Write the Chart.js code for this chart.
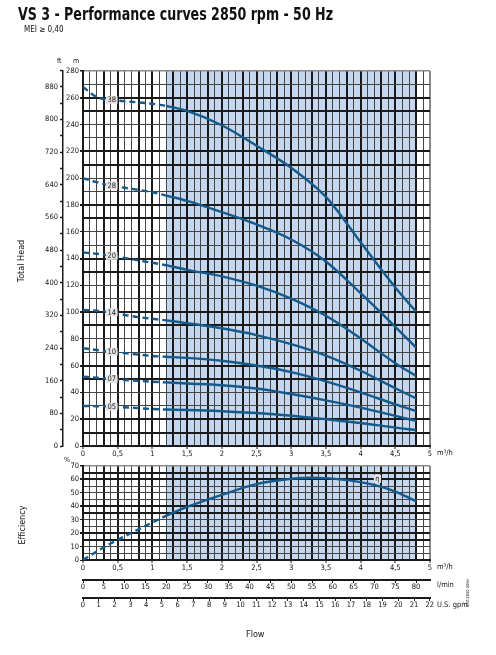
<!DOCTYPE html>
<html><head><meta charset="utf-8">
<script src="https://cdn.jsdelivr.net/npm/chart.js@4"></script>
<style>
html,body{margin:0;padding:0;background:#fff;}
#wrap{position:relative;width:496px;height:655px;overflow:hidden;background:#fff;}
canvas{position:absolute;left:0;top:0;}
.t{position:absolute;white-space:nowrap;font-family:"Liberation Sans Narrow","Arial Narrow","DejaVu Sans Condensed",Roboto,sans-serif;color:#111;}
.rot{text-align:center;transform:rotate(-90deg);transform-origin:50% 50%;}
</style></head>
<body><div id="wrap">
<canvas id="head" width="496" height="655"></canvas>
<canvas id="eff" width="496" height="655"></canvas>
<div class="t" id="title" style="left:18px;top:5px;font-size:18px;line-height:18px;font-weight:bold;">VS 3 - Performance curves 2850 rpm - 50 Hz</div>
<div class="t" style="left:24px;top:26px;font-size:8px;line-height:8px;">MEI ≥ 0,40</div>
<div class="t" style="left:57px;top:58px;font-size:7px;line-height:7px;">ft</div>
<div class="t" style="left:73px;top:58px;font-size:7px;line-height:7px;">m</div>
<div class="t" style="left:64px;top:457px;font-size:7px;line-height:7px;">%</div>
<div class="t rot" style="left:-19px;top:256px;width:80px;font-size:9px;line-height:10px;">Total Head</div>
<div class="t rot" style="left:-18px;top:520px;width:80px;font-size:9px;line-height:10px;">Efficiency</div>
<div class="t" style="left:437px;top:449px;font-size:7.5px;line-height:7.5px;">m³/h</div>
<div class="t" style="left:437px;top:563px;font-size:7.5px;line-height:7.5px;">m³/h</div>
<div class="t" style="left:437px;top:581px;font-size:7.5px;line-height:7.5px;">l/min</div>
<div class="t" style="left:437px;top:601px;font-size:7.5px;line-height:7.5px;">U.S. gpm</div>
<div class="t" style="left:246px;top:630px;font-size:9px;line-height:9px;">Flow</div>
<div class="t rot" style="left:448px;top:591px;width:40px;font-size:4px;line-height:4px;">VS3-2850-50Hz</div>
</div>
<script>
// ---------- data ----------
const flowDashed = [0, 0.2, 0.4, 0.7, 1.0, 1.2];
const flowSolid  = [1.2, 1.5, 2.0, 2.5, 3.0, 3.5, 4.0, 4.5, 4.8];
const stageLabels = ['38', '28', '20', '14', '10', '07', '05'];

const head38Dashed = [268, 260.5, 258.5, 257, 255.5, 254];
const head38Solid  = [254, 250.2, 239.5, 224.2, 207.7, 186, 152.2, 118.4, 100.3];
const head28Dashed = [200, 197, 194.5, 192, 189.5, 187];
const head28Solid  = [187, 183, 174.6, 165.4, 154.2, 137.8, 114.1, 89, 73.4];
const head20Dashed = [144.5, 143.5, 142, 139.5, 136.8, 135];
const head20Solid  = [135, 131.5, 126.7, 119.7, 110, 97.2, 80.3, 61.8, 52.3];
const head14Dashed = [101.5, 101, 99.8, 97, 95, 93.8];
const head14Solid  = [93.8, 91.7, 87.9, 82.8, 76, 67.5, 56.2, 43.1, 35.6];
const head10Dashed = [73, 71.7, 70.4, 68.8, 67.2, 66.6];
const head10Solid  = [66.6, 65.8, 63.7, 60.1, 55.2, 48.3, 40.1, 31.1, 26.1];
const head07Dashed = [51.8, 51, 50, 49, 48, 47.5];
const head07Solid  = [47.5, 46.7, 45.4, 42.9, 38.8, 34.1, 28.7, 22.5, 18.7];
const head05Dashed = [29.9, 29.7, 29.4, 28.6, 27.6, 27.2];
const head05Solid  = [27.2, 26.9, 26.0, 24.6, 22.6, 20.0, 17.2, 13.7, 11.9];

const effFlowDashed = [0, 0.25, 0.5, 0.75, 1.0, 1.2];
const effDashed     = [0, 8, 15, 21.5, 28, 33];
const effFlowSolid  = [1.2, 1.5, 2.0, 2.5, 3.0, 3.3, 3.5, 4.0, 4.3, 4.5, 4.8];
const effSolid      = [33, 39.5, 48.5, 56.5, 60.5, 61.3, 61, 58, 54.5, 51, 43.7];
const effLabel = 'η';

const flowTickLabels = ['0','0,5','1','1,5','2','2,5','3','3,5','4','4,5','5'];
const headTicksM  = [0,20,40,60,80,100,120,140,160,180,200,220,240,260,280];
const headTicksFt = [0,80,160,240,320,400,480,560,640,720,800,880];
const effTicks    = [0,10,20,30,40,50,60,70];
const lminTicks   = [0,5,10,15,20,25,30,35,40,45,50,55,60,65,70,75,80];
const gpmTicks    = [0,1,2,3,4,5,6,7,8,9,10,11,12,13,14,15,16,17,18,19,20,21,22];
const shadeFrom = 1.2, shadeTo = 4.8;

const headDashed = [head38Dashed, head28Dashed, head20Dashed, head14Dashed, head10Dashed, head07Dashed, head05Dashed];
const headSolid  = [head38Solid, head28Solid, head20Solid, head14Solid, head10Solid, head07Solid, head05Solid];

// ---------- styling helpers ----------
const FONT = '"Liberation Sans Narrow","Arial Narrow","DejaVu Sans Condensed",Roboto,sans-serif';
const LINE = '#145a8c';
const SHADE = '#c4d7ee';
const DARK = '#1a1a1a', FINE = '#444444', EDGE = '#8a8a8a';
const near = (a, b) => Math.abs(a - b) < 1e-6;
const pts = (xs, ys) => xs.map((x, i) => ({x, y: ys[i]}));

function flowLabel(v){ const k = v * 2; return near(k, Math.round(k)) ? (flowTickLabels[Math.round(k)] ?? '') : ''; }
function inList(list, v){ return list.some(t => near(t, v)); }
function xThick(v){ const k = Math.round(v * 10); return near(v * 10, k) && (k % 5 === 0 || k % 5 === 3); }
function xColor(v){ return near(v, 5) ? EDGE : (xThick(v) ? DARK : FINE); }
function xWidth(v){ return near(v, 5) ? 2 : (xThick(v) ? 2 : 1); }

const shadePlugin = {
  id: 'shade',
  beforeDraw(chart){
    const {ctx, chartArea: a, scales: {x}} = chart;
    const x0 = x.getPixelForValue(shadeFrom), x1 = x.getPixelForValue(shadeTo);
    ctx.save(); ctx.fillStyle = SHADE; ctx.fillRect(x0, a.top, x1 - x0, a.bottom - a.top); ctx.restore();
  }
};
function drawTag(ctx, text, cx, cy){
  ctx.save();
  ctx.font = '7.5px ' + FONT;
  const w = ctx.measureText(text).width + 3, h = 8;
  ctx.fillStyle = '#e4e4e4';
  ctx.fillRect(cx - w / 2, cy - h / 2, w, h);
  ctx.fillStyle = '#222'; ctx.textAlign = 'center'; ctx.textBaseline = 'middle';
  ctx.fillText(text, cx, cy + 0.5);
  ctx.restore();
}
const headLabelPlugin = {
  id: 'headLabels',
  afterDatasetsDraw(chart){
    stageLabels.forEach((lab, i) => {
      const el = chart.getDatasetMeta(2 * i).data[2];
      drawTag(chart.ctx, lab, el.x + 1, el.y);
    });
  }
};
const effLabelPlugin = {
  id: 'effLabels',
  afterDatasetsDraw(chart){
    const el = chart.getDatasetMeta(1).data[8];
    drawTag(chart.ctx, effLabel, el.x - 4, el.y - 8);
  }
};

function lineDs(data, dashed){
  return {data, borderColor: LINE, borderWidth: 2.4, borderDash: dashed ? [6, 4] : [],
          pointRadius: 0, fill: false, cubicInterpolationMode: 'monotone', borderCapStyle: 'butt'};
}
const tickFont = {family: FONT, size: 7.5};
function flowAxis(h){
  return {
    type: 'linear', min: 0, max: 5, position: 'bottom', weight: 0,
    afterFit: s => { s.height = h; },
    ticks: {stepSize: 0.1, autoSkip: false, maxRotation: 0, padding: 1, color: '#111', font: tickFont,
            callback: v => flowLabel(v)},
    grid: {color: c => xColor(c.tick.value), lineWidth: c => xWidth(c.tick.value), tickLength: 3,
           tickColor: c => flowLabel(c.tick.value) !== '' ? DARK : 'rgba(0,0,0,0)', tickWidth: 1},
    border: {color: DARK, width: 2}
  };
}
const common = {
  responsive: false, animation: false, events: [],
  plugins: {legend: {display: false}, tooltip: {enabled: false}}
};

// ---------- head chart ----------
const headSets = [];
stageLabels.forEach((lab, i) => {
  headSets.push(lineDs(pts(flowDashed, headDashed[i]), true));
  headSets.push(lineDs(pts(flowSolid, headSolid[i]), false));
});
const M2FT = 3.28084;
// ft ticks: labelled every 80 ft, minor marks halfway between
const ftTickValues = [];
headTicksFt.forEach(v => { ftTickValues.push(v); ftTickValues.push(v + 40); });

new Chart(document.getElementById('head'), {
  type: 'line',
  data: {datasets: headSets},
  plugins: [shadePlugin, headLabelPlugin],
  options: Object.assign({}, common, {
    layout: {padding: {left: 25, right: 66, top: 71, bottom: 193}},
    scales: {
      x: flowAxis(16),
      y: {
        type: 'linear', min: 0, max: 280, position: 'left', weight: 0,
        afterFit: s => { s.width = 20; },
        ticks: {stepSize: 10, autoSkip: false, padding: 1, color: '#111', font: tickFont,
                callback: v => inList(headTicksM, v) ? String(v) : ''},
        grid: {color: c => { const v = c.tick.value; if (near(v, 280)) return EDGE; const r = Math.round(v) % 40; return (r === 10 || r === 20) ? DARK : FINE; },
               lineWidth: c => { const v = c.tick.value; if (near(v, 280)) return 1.5; const r = Math.round(v) % 40; return (r === 10 || r === 20) ? 2 : 1; },
               tickLength: 3, tickColor: c => inList(headTicksM, c.tick.value) ? DARK : 'rgba(0,0,0,0)'},
        border: {color: DARK, width: 2}
      },
      ft: {
        type: 'linear', min: 0, max: 280 * M2FT, position: 'left', weight: 1,
        afterFit: s => { s.width = 38; },
        afterBuildTicks: s => { s.ticks = ftTickValues.map(v => ({value: v})); },
        ticks: {autoSkip: false, padding: 2, color: '#111', font: tickFont,
                callback: v => inList(headTicksFt, v) ? String(v) : ''},
        grid: {drawOnChartArea: false, tickLength: 3, tickWidth: 1.5, tickColor: DARK},
        border: {color: DARK, width: 1.5}
      }
    }
  })
});

// ---------- efficiency chart ----------
const effThick = [15, 20, 35, 40, 60, 65];
new Chart(document.getElementById('eff'), {
  type: 'line',
  data: {datasets: [lineDs(pts(effFlowDashed, effDashed), true), lineDs(pts(effFlowSolid, effSolid), false)]},
  plugins: [shadePlugin, effLabelPlugin],
  options: Object.assign({}, common, {
    layout: {padding: {left: 63, right: 66, top: 466, bottom: 41}},
    scales: {
      x: flowAxis(20),
      y: {
        type: 'linear', min: 0, max: 70, position: 'left',
        afterFit: s => { s.width = 20; },
        ticks: {stepSize: 5, autoSkip: false, padding: 1, color: '#111', font: tickFont,
                callback: v => inList(effTicks, v) ? String(v) : ''},
        grid: {color: c => { const v = c.tick.value; if (near(v, 70)) return EDGE; return inList(effThick, v) ? DARK : FINE; },
               lineWidth: c => { const v = c.tick.value; if (near(v, 70)) return 1.5; return inList(effThick, v) ? 2 : 1; },
               tickLength: 3, tickColor: c => inList(effTicks, c.tick.value) ? DARK : 'rgba(0,0,0,0)'},
        border: {color: DARK, width: 2}
      },
      lmin: {
        type: 'linear', min: 0, max: 5 * 1000 / 60, position: 'bottom', weight: 1,
        afterFit: s => { s.height = 18; },
        afterBuildTicks: s => { s.ticks = lminTicks.map(v => ({value: v})); },
        ticks: {autoSkip: false, maxRotation: 0, padding: 0, color: '#111', font: tickFont,
                callback: v => String(v)},
        grid: {drawOnChartArea: false, tickLength: 3, tickWidth: 1, tickColor: DARK},
        border: {color: DARK, width: 2}
      },
      gpm: {
        type: 'linear', min: 0, max: 5 * 1000 / 60 / 3.78541, position: 'bottom', weight: 2,
        afterFit: s => { s.height = 16; },
        afterBuildTicks: s => { s.ticks = gpmTicks.map(v => ({value: v})); },
        ticks: {autoSkip: false, maxRotation: 0, padding: 0, color: '#111', font: tickFont,
                callback: v => String(v)},
        grid: {drawOnChartArea: false, tickLength: 3, tickWidth: 1, tickColor: DARK},
        border: {color: DARK, width: 2}
      }
    }
  })
});

// fit title width to reference
(function(){
  const el = document.getElementById('title');
  const w = el.getBoundingClientRect().width;
  el.style.transformOrigin = 'left top';
  el.style.transform = 'scaleX(' + (315 / w) + ')';
})();
</script>
</body></html>
